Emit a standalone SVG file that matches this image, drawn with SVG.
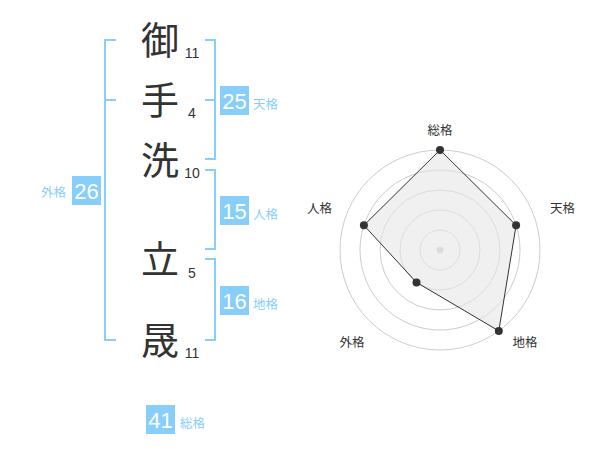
<svg xmlns="http://www.w3.org/2000/svg" width="600" height="470" viewBox="0 0 600 470">
<style>
.ch{font-family:"Noto Sans CJK JP","Noto Sans CJK SC",sans-serif;font-size:38px;fill:#333;text-anchor:middle}
.num{font-family:"Liberation Sans",Arial,sans-serif;font-size:14px;fill:#333;text-anchor:middle}
.br{fill:none;stroke:#87cefa;stroke-width:2}
.box{fill:#87cefa}
.bt{font-family:"Liberation Sans",Arial,sans-serif;font-size:22px;fill:#fff;text-anchor:middle}
.lb{font-family:"Noto Sans CJK JP","Noto Sans CJK SC",sans-serif;font-size:12.5px;fill:#87cefa}
.ring{fill:none;stroke:#ccc;stroke-width:1}
.rl{font-family:"Noto Sans CJK JP","Noto Sans CJK SC",sans-serif;font-size:12.5px;fill:#333;text-anchor:middle}
.pt{fill:#333}
</style>
<rect width="600" height="470" fill="#fff"/>
<g id="connectors">
<path class="br" d="M116,40 H105 V340 H116 M105,100 H116"/>
<path class="br" d="M205,40 H215 V159 H205 M205,100 H215"/>
<path class="br" d="M205,170 H215 V249 H205"/>
<path class="br" d="M205,259 H215 V340 H205"/>
</g>
<g id="char1"><text class="ch" x="160" y="54">御</text><text class="num" x="192" y="58">11</text></g>
<g id="char2"><text class="ch" x="160" y="114">手</text><text class="num" x="192" y="118">4</text></g>
<g id="char3"><text class="ch" x="160" y="174">洗</text><text class="num" x="192" y="178">10</text></g>
<g id="char4"><text class="ch" x="160" y="273">立</text><text class="num" x="192" y="278">5</text></g>
<g id="char5"><text class="ch" x="160" y="354">晟</text><text class="num" x="192" y="358">11</text></g>
<g id="tenkaku"><rect class="box" x="220" y="86" width="29" height="29"/><text class="bt" x="234.5" y="108.5">25</text><text class="lb" x="253" y="109">天格</text></g>
<g id="jinkaku"><rect class="box" x="220" y="196" width="29" height="29"/><text class="bt" x="234.5" y="218.5">15</text><text class="lb" x="253" y="219">人格</text></g>
<g id="chikaku"><rect class="box" x="220" y="286" width="29" height="29"/><text class="bt" x="234.5" y="308.5">16</text><text class="lb" x="253" y="309">地格</text></g>
<g id="gaikaku"><rect class="box" x="72" y="176" width="29" height="29"/><text class="bt" x="86.5" y="198.5">26</text><text class="lb" x="66" y="197" text-anchor="end">外格</text></g>
<g id="soukaku"><rect class="box" x="146" y="405" width="29" height="29"/><text class="bt" x="160.5" y="427.5">41</text><text class="lb" x="180" y="428">総格</text></g>
<g id="radar">
<circle class="ring" cx="440" cy="250" r="20"/>
<circle class="ring" cx="440" cy="250" r="40"/>
<circle class="ring" cx="440" cy="250" r="60"/>
<circle class="ring" cx="440" cy="250" r="80"/>
<circle class="ring" cx="440" cy="250" r="100"/>
<circle cx="440" cy="250" r="3.5" fill="#ccc"/>
<polygon points="440,150 516.1,225.3 498.8,330.9 416.5,282.4 363.9,225.3" fill="#e6e6e6" fill-opacity="0.6" stroke="#333" stroke-width="1"/>
<circle class="pt" cx="440" cy="150" r="4"/>
<circle class="pt" cx="516.1" cy="225.3" r="4"/>
<circle class="pt" cx="498.8" cy="330.9" r="4"/>
<circle class="pt" cx="416.5" cy="282.4" r="4"/>
<circle class="pt" cx="363.9" cy="225.3" r="4"/>
<text class="rl" x="440" y="135">総格</text>
<text class="rl" x="562.5" y="213">天格</text>
<text class="rl" x="525" y="347">地格</text>
<text class="rl" x="352" y="347">外格</text>
<text class="rl" x="319.5" y="213">人格</text>
</g>
</svg>
